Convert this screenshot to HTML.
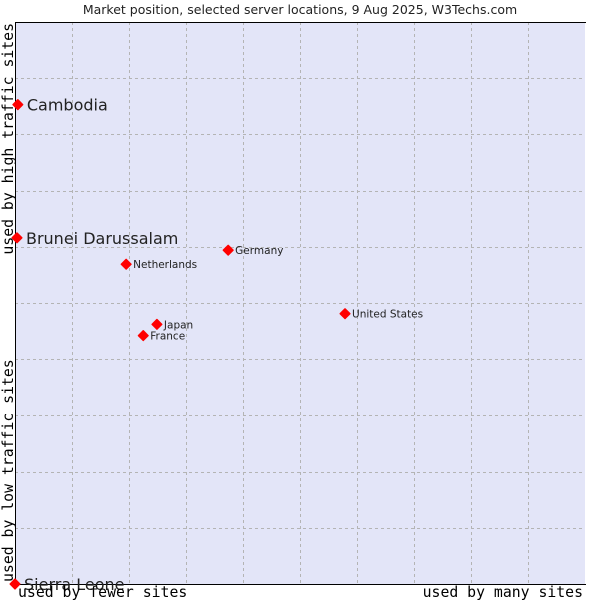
<!DOCTYPE html>
<html><head><meta charset="utf-8"><style>
body{margin:0;background:#fff;}
svg{display:block;}
</style></head><body>
<svg id="chart" width="600" height="600" xmlns="http://www.w3.org/2000/svg">
<text x="300" y="14" text-anchor="middle" font-family="DejaVu Sans, sans-serif" font-size="12.5" fill="#222">Market position, selected server locations, 9 Aug 2025, W3Techs.com</text>
<rect x="15" y="22" width="570" height="562" fill="#e3e5f8"/>
<g id="grid"></g>
<line x1="15.5" y1="22" x2="15.5" y2="585" stroke="#000"/>
<line x1="15" y1="584.5" x2="586" y2="584.5" stroke="#000"/>
<line x1="15" y1="22.5" x2="586" y2="22.5" stroke="#000"/>
<g id="points"></g>
<text x="18" y="597" font-family="DejaVu Sans Mono, monospace" font-size="14.8" fill="#000">used by fewer sites</text>
<text x="583" y="597" text-anchor="end" font-family="DejaVu Sans Mono, monospace" font-size="14.8" fill="#000">used by many sites</text>
<text transform="translate(13,23) rotate(-90)" text-anchor="end" font-family="DejaVu Sans Mono, monospace" font-size="14.8" fill="#000">used by high traffic sites</text>
<text transform="translate(13,582) rotate(-90)" font-family="DejaVu Sans Mono, monospace" font-size="14.8" fill="#000">used by low traffic sites</text>
</svg>
<script>
const names=["Cambodia","Brunei Darussalam","Sierra Leone","Germany","Netherlands","United States","Japan","France"];
const xVals=[0.5,0.35,0,37.4,19.5,57.9,24.9,22.5];
const yVals=[85.3,61.6,0,59.4,56.9,48.1,46.2,44.2];
const bigLabel=[true,true,true,false,false,false,false,false];
const NS="http://www.w3.org/2000/svg";
const X0=15,X1=585,Y0=584,Y1=22;
function xs(v){return X0+(X1-X0)*v/100;}
function ys(v){return Y0-(Y0-Y1)*v/100;}
const grid=document.getElementById('grid');
for(let i=1;i<10;i++){
  const v=document.createElementNS(NS,'line');
  
  
  const x=Math.round(xs(i*10))+0.5;
  v.setAttribute('x1',x);v.setAttribute('x2',x);v.setAttribute('y1',Y1);v.setAttribute('y2',Y0);
  v.setAttribute('stroke','#b4b4b4');v.setAttribute('stroke-dasharray','3,3');
  grid.appendChild(v);
  const h=document.createElementNS(NS,'line');
  
  
  const y=Math.round(ys(i*10))+0.5;
  h.setAttribute('x1',X0);h.setAttribute('x2',X1);h.setAttribute('y1',y);h.setAttribute('y2',y);
  h.setAttribute('stroke','#b4b4b4');h.setAttribute('stroke-dasharray','3,3');
  grid.appendChild(h);
}
const pts=document.getElementById('points');
names.forEach((n,i)=>{
  const cx=xs(xVals[i]),cy=ys(yVals[i]);
  const d=document.createElementNS(NS,'polygon');
  
  
  d.setAttribute('points',`${cx},${cy-4.8} ${cx+4.8},${cy} ${cx},${cy+4.8} ${cx-4.8},${cy}`);
  d.setAttribute('fill','#f00');
  d.setAttribute('stroke','#f00');
  d.setAttribute('stroke-linejoin','round');
  d.setAttribute('stroke-width','1.5');
  pts.appendChild(d);
  const t=document.createElementNS(NS,'text');
  
  
  t.setAttribute('x',cx+(bigLabel[i]?9:7));
  t.setAttribute('y',cy+(bigLabel[i]?6:4));
  t.setAttribute('font-family','DejaVu Sans, sans-serif');
  t.setAttribute('font-size',bigLabel[i]?'16':'10.5');
  t.setAttribute('fill','#222');
  t.textContent=n;
  pts.appendChild(t);
});
</script>
</body></html>
